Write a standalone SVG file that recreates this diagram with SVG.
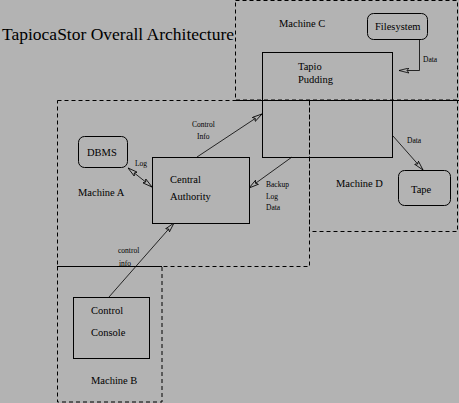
<svg xmlns="http://www.w3.org/2000/svg" width="459" height="403" viewBox="0 0 459 403">
<defs>
<style>
.bg{fill:#b3b3b3}
.mach{fill:none;stroke:#000;stroke-width:1;stroke-dasharray:4,3}
.solid{fill:none;stroke:#000;stroke-width:1}
.box{fill:none;stroke:#000;stroke-width:1}
text{font-family:'Liberation Serif','Times New Roman',serif;fill:#000}
.m{font-size:10.5px}
.s{font-size:7.5px}
.conn{fill:none;stroke:#000;stroke-width:0.8}
</style>
<marker id="ah" viewBox="0 0 10 6" refX="10" refY="3" markerWidth="10" markerHeight="6" markerUnits="userSpaceOnUse" orient="auto-start-reverse">
<path d="M0,0.5 L10,3 L0,5.5 L2,3 Z" fill="#b3b3b3" stroke="#000" stroke-width="0.8"/>
</marker>
</defs>
<rect class="bg" x="0" y="0" width="459" height="403"/>
<g font-family="Liberation Serif, Times New Roman, serif">
<text x="2" y="40" font-size="17.5">TapiocaStor Overall Architecture</text>

<g id="machineC">
<rect class="mach" x="235.5" y="0.5" width="222" height="99.5"/>
<text class="m" x="279" y="27">Machine C</text>
</g>
<g id="machineA">
<rect class="mach" x="57.5" y="100.5" width="252" height="166"/>
<text class="m" x="78" y="196">Machine A</text>
</g>
<g id="machineD">
<rect class="mach" x="309.5" y="100.5" width="148" height="131"/>
<text class="m" x="336" y="187">Machine D</text>
</g>
<g id="machineB">
<rect class="mach" x="57.5" y="266.5" width="104.5" height="135.5"/>
<text class="m" x="91" y="384">Machine B</text>
</g>
<g id="overlaps">
<line class="solid" x1="235" y1="100.5" x2="459" y2="100.5"/>
<line class="solid" x1="57" y1="266.5" x2="162" y2="266.5"/>
</g>

<g id="filesystem">
<rect class="box" x="367.5" y="13.5" width="60" height="26" rx="6"/>
<text class="m" x="375" y="30">Filesystem</text>
</g>
<g id="tapio">
<rect class="box" x="262.5" y="52.5" width="130" height="105"/>
<text class="m" x="298" y="70">Tapio</text>
<text class="m" x="298" y="83">Pudding</text>
</g>
<g id="dbms">
<rect class="box" x="78.5" y="136.5" width="49" height="31" rx="6"/>
<text class="m" x="87" y="156">DBMS</text>
</g>
<g id="central">
<rect class="box" x="152.5" y="157.5" width="97" height="66"/>
<text class="m" x="170" y="183">Central</text>
<text class="m" x="170" y="200">Authority</text>
</g>
<g id="tape">
<rect class="box" x="398.5" y="170.5" width="52" height="35" rx="6"/>
<text class="m" x="411" y="193">Tape</text>
</g>
<g id="console">
<rect class="box" x="73.5" y="297.5" width="76" height="61"/>
<text class="m" x="91" y="314">Control</text>
<text class="m" x="91" y="336">Console</text>
</g>

<g id="connectors">
<polyline class="conn" points="419.5,39.5 419.5,70.5 399,70.5" marker-end="url(#ah)"/>
<text class="s" x="423" y="62">Data</text>
<line class="conn" x1="128" y1="168" x2="152" y2="187" marker-start="url(#ah)" marker-end="url(#ah)"/>
<text class="s" x="135" y="166">Log</text>
<line class="conn" x1="197" y1="157" x2="262" y2="114" marker-end="url(#ah)"/>
<text class="s" x="192" y="127">Control</text>
<text class="s" x="197" y="139">Info</text>
<line class="conn" x1="292" y1="157" x2="249" y2="188" marker-end="url(#ah)"/>
<text class="s" x="266" y="187">Backup</text>
<text class="s" x="266" y="199">Log</text>
<text class="s" x="266" y="210">Data</text>
<line class="conn" x1="393" y1="136" x2="423" y2="170" marker-end="url(#ah)"/>
<text class="s" x="407" y="143">Data</text>
<line class="conn" x1="109" y1="297" x2="174" y2="223" marker-end="url(#ah)"/>
<text class="s" x="118" y="253">control</text>
<text class="s" x="119" y="266">info</text>
</g>
</g>
</svg>
